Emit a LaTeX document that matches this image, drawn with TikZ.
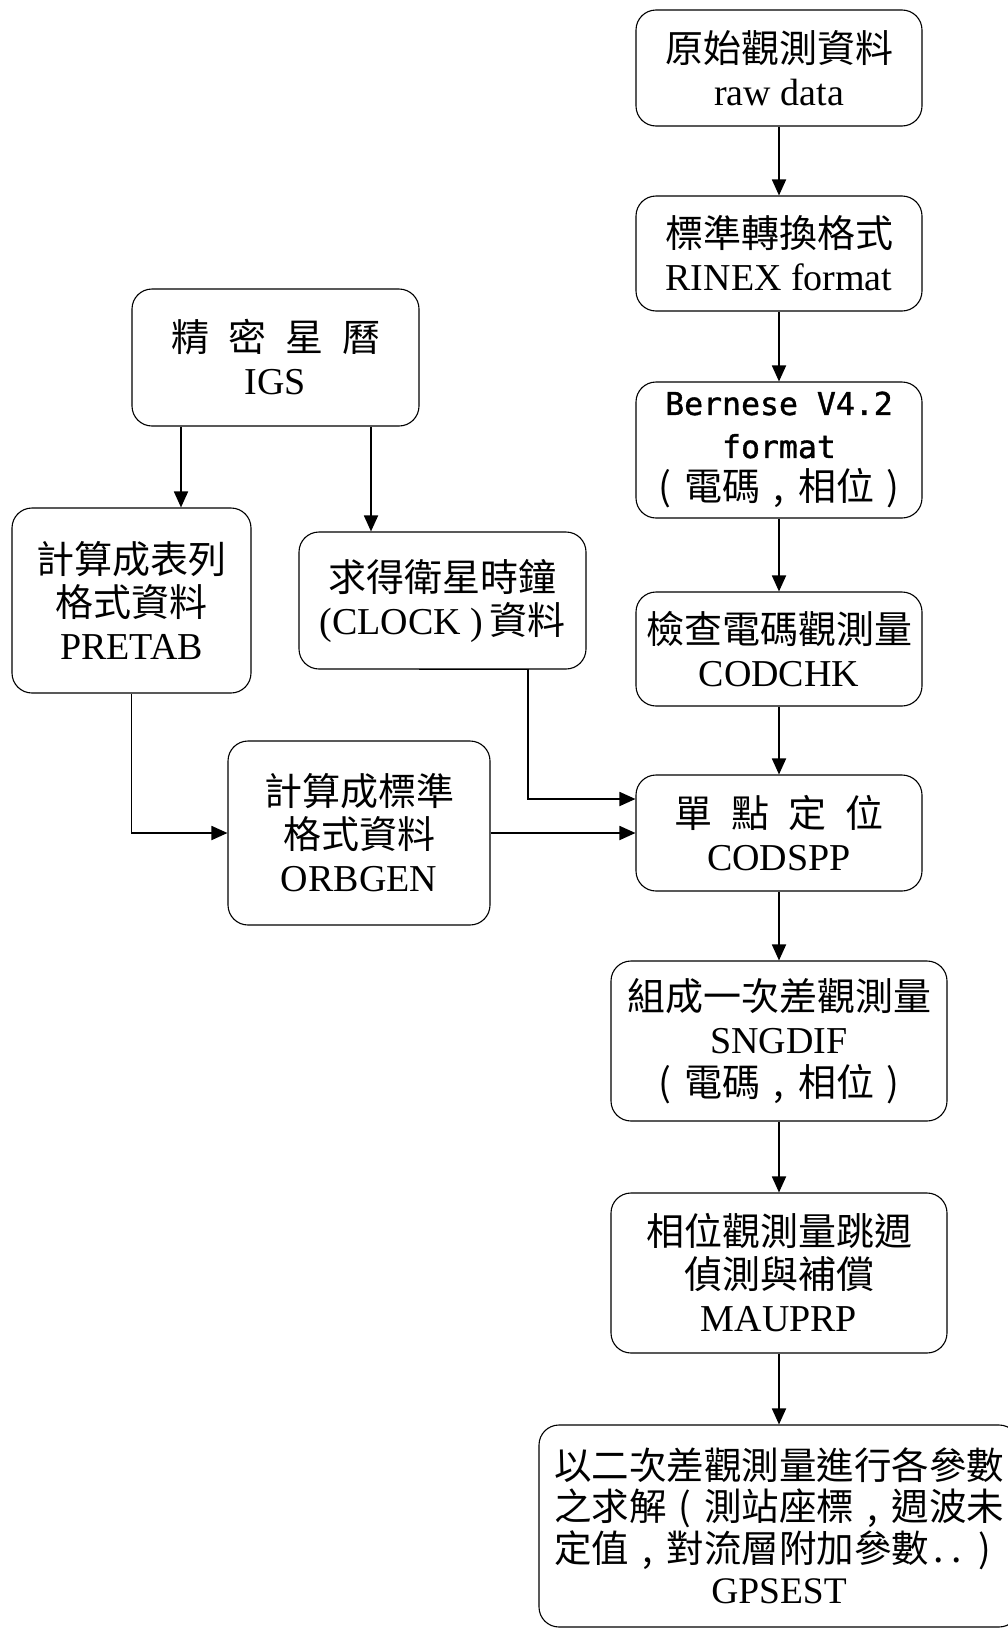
\documentclass[tikz,border=0pt]{standalone}
\usepackage{fontspec}
\setmainfont{Liberation Serif}
\newfontfamily\cjk{Noto Sans CJK TC}
\newfontfamily\monof[FakeBold=1.2]{DejaVu Sans Mono}
\usetikzlibrary{arrows.meta}
\newcommand{\hwc}[1]{\makebox[1em][c]{#1}}
\begin{document}
\begin{tikzpicture}[x=1pt,y=-1pt,
  box/.style={draw, line width=1.1pt, rounded corners=20pt, inner sep=0pt, align=center,
    font=\fontsize{38}{43}\selectfont},
  conn/.style={line width=1.8pt, -{Triangle[length=16pt,width=14pt]}}]
\useasboundingbox (0,0) rectangle (1008,1630);
% right column
\node[box, minimum width=286pt, minimum height=116pt] (raw) at (779,68) {{\cjk 原始觀測資料}\\raw data};
\node[box, minimum width=286pt, minimum height=115pt] (rinex) at (779,253.5) {{\cjk 標準轉換格式}\\RINEX format};
\node[box, minimum width=286pt, minimum height=136pt] (bern) at (779,450) {{\monof\fontsize{31.5}{43}\selectfont Bernese V4.2}\\{\monof\fontsize{31.5}{43}\selectfont format}\\{\cjk \hwc{(}電碼\hwc{,}相位\hwc{)}}};
\node[box, minimum width=286pt, minimum height=114pt] (codchk) at (779,649) {{\cjk 檢查電碼觀測量}\\CODCHK};
\node[box, minimum width=286pt, minimum height=116pt] (codspp) at (779,833) {{\cjk 單\hspace{0.5em}點\hspace{0.5em}定\hspace{0.5em}位}\\CODSPP};
\node[box, minimum width=336pt, minimum height=160pt] (sngdif) at (779,1041) {{\cjk 組成一次差觀測量}\\SNGDIF\\{\cjk \hwc{(}電碼\hwc{,}相位\hwc{)}}};
\node[box, minimum width=336pt, minimum height=160pt] (mauprp) at (779,1273) {{\cjk 相位觀測量跳週}\\{\cjk 偵測與補償}\\MAUPRP};
\node[box, minimum width=480pt, minimum height=202pt, font=\fontsize{37.5}{41.5}\selectfont] (gpsest) at (779,1526) {{\cjk 以二次差觀測量進行各參數}\\{\cjk 之求解\hwc{(}測站座標\hwc{,}週波未}\\{\cjk 定值\hwc{,}對流層附加參數\makebox[0.5em]{.}\makebox[0.5em]{.}\hwc{)}}\\GPSEST};
% left part
\node[box, minimum width=287pt, minimum height=137pt] (igs) at (275.5,357.5) {{\cjk 精\hspace{0.5em}密\hspace{0.5em}星\hspace{0.5em}曆}\\IGS};
\node[box, minimum width=239pt, minimum height=185pt] (pretab) at (131.5,600.5) {{\cjk 計算成表列}\\{\cjk 格式資料}\\PRETAB};
\node[box, minimum width=287pt, minimum height=137pt] (clock) at (442.5,600.5) {{\cjk 求得衛星時鐘}\\(CLOCK )\,{\cjk 資料}};
\node[box, minimum width=262pt, minimum height=184pt] (orbgen) at (359,833) {{\cjk 計算成標準}\\{\cjk 格式資料}\\ORBGEN};
% connectors
\draw[conn] (raw.south) -- (rinex.north);
\draw[conn] (rinex.south) -- (bern.north);
\draw[conn] (bern.south) -- (codchk.north);
\draw[conn] (codchk.south) -- (codspp.north);
\draw[conn] (codspp.south) -- (sngdif.north);
\draw[conn] (sngdif.south) -- (mauprp.north);
\draw[conn] (mauprp.south) -- (gpsest.north);
\draw[conn] ([xshift=-94.5pt]igs.south) -- ([xshift=-94.5pt]igs.south |- pretab.north);
\draw[conn] ([xshift=95.5pt]igs.south) -- ([xshift=95.5pt]igs.south |- clock.north);
\draw[conn] (pretab.south) |- (orbgen.west);
\draw[conn] ([xshift=-23.5pt]clock.south) -- ([xshift=85.5pt]clock.south) |- ([yshift=34pt]codspp.west);
\draw[conn] (orbgen.east) -- (codspp.west);
\end{tikzpicture}
\end{document}
